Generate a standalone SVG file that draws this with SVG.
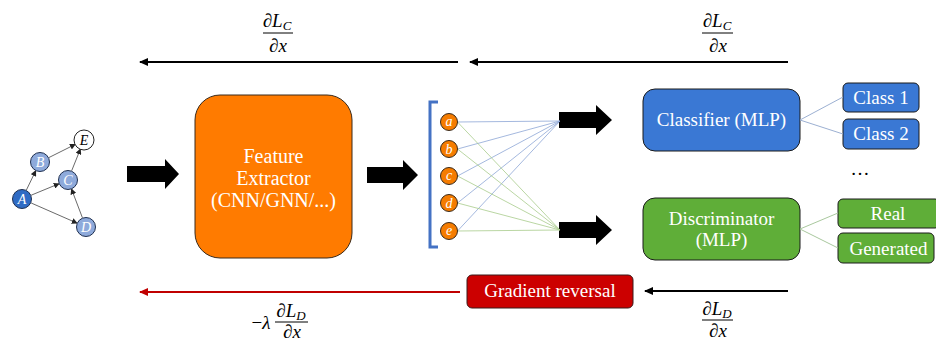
<svg xmlns="http://www.w3.org/2000/svg" width="936" height="343" viewBox="0 0 936 343">
<style>
  .lbl { font-family: "Liberation Serif", "Times New Roman", serif; fill: #ffffff; text-anchor: middle; }
  .m { font-family: "Liberation Serif", "Times New Roman", serif; fill: #000; text-anchor: middle; font-size: 19px; }
  .it { font-style: italic; }
  .gnode { stroke: #1f2f4f; stroke-width: 1; }
  .gl { font-family: "Liberation Serif", serif; font-style: italic; font-size: 14px; text-anchor: middle; fill: #fff; }
  .gedge { stroke: #444; stroke-width: 0.8; fill: none; marker-end: url(#sm); }
  .block { fill: #000; }
  .bl { stroke: #8da6d6; stroke-width: 0.8; }
  .gr { stroke: #a8cc8c; stroke-width: 0.8; }
</style>
<defs>
  <marker id="sm" markerWidth="6" markerHeight="6" refX="5" refY="3" orient="auto" markerUnits="userSpaceOnUse">
    <path d="M0,0 L6,3 L0,6 z" fill="#222"/>
  </marker>
  <marker id="ak" markerWidth="9" markerHeight="8" refX="8" refY="4" orient="auto" markerUnits="userSpaceOnUse">
    <path d="M0,0 L9,4 L0,8 z" fill="#000"/>
  </marker>
  <marker id="ar" markerWidth="9" markerHeight="8" refX="8" refY="4" orient="auto" markerUnits="userSpaceOnUse">
    <path d="M0,0 L9,4 L0,8 z" fill="#c00000"/>
  </marker>
</defs>

<!-- input graph -->
<g id="graph">
  <g id="graph-edges">
    <line class="gedge" x1="26.4" y1="190" x2="35.6" y2="171"/>
    <line class="gedge" x1="49" y1="157.5" x2="75" y2="144.5"/>
    <line class="gedge" x1="31.2" y1="195.2" x2="58.8" y2="183.8"/>
    <line class="gedge" x1="71.7" y1="170.7" x2="80.3" y2="149.3"/>
    <line class="gedge" x1="31.2" y1="203" x2="76.8" y2="223"/>
    <line class="gedge" x1="82.4" y1="217.7" x2="71.6" y2="189.3"/>
  </g>
  <g id="gA"><circle class="gnode" cx="22" cy="199" r="9.5" fill="#2f6bc4"/><text class="gl" x="22" y="204">A</text></g>
  <g id="gB"><circle class="gnode" cx="40" cy="162" r="9.5" fill="#8eaadb"/><text class="gl" x="40" y="167">B</text></g>
  <g id="gC"><circle class="gnode" cx="68" cy="180" r="9.5" fill="#8eaadb"/><text class="gl" x="68" y="185">C</text></g>
  <g id="gD"><circle class="gnode" cx="86" cy="227" r="9.5" fill="#8eaadb"/><text class="gl" x="86" y="232">D</text></g>
  <g id="gE"><circle cx="84" cy="140" r="10" fill="#ffffff" stroke="#222" stroke-width="1"/><text class="gl" x="84" y="145" style="fill:#000">E</text></g>
</g>

<!-- block arrows -->
<g id="block-arrows">
  <polygon class="block" points="127,166 165,166 165,159 179,174 165,189 165,182 127,182"/>
  <polygon class="block" points="367,167 403,167 403,160 418,175 403,190 403,183 367,183"/>
  <polygon class="block" points="559,112 596,112 596,105 612,120 596,135 596,128 559,128"/>
  <polygon class="block" points="559,222 596,222 596,215 612,230 596,245 596,238 559,238"/>
</g>

<!-- feature extractor -->
<g id="feature-extractor">
  <rect x="195" y="95" width="157" height="163" rx="25" fill="#ff7b00" stroke="#3a2a1a" stroke-width="1"/>
  <text class="lbl" x="273.5" y="163" font-size="20">Feature</text>
  <text class="lbl" x="273.5" y="185" font-size="20">Extractor</text>
  <text class="lbl" x="273.5" y="207" font-size="20">(CNN/GNN/...)</text>
</g>

<!-- feature vector -->
<g id="feature-vector">
  <path d="M438,102 H430 V247 H438" fill="none" stroke="#4472c4" stroke-width="3"/>
  <g id="vector-lines">
    <line class="bl" x1="457.5" y1="122" x2="560" y2="121"/>
    <line class="bl" x1="457.5" y1="149" x2="560" y2="121"/>
    <line class="bl" x1="457.5" y1="176" x2="560" y2="121"/>
    <line class="bl" x1="457.5" y1="203" x2="560" y2="121"/>
    <line class="bl" x1="457.5" y1="231" x2="560" y2="121"/>
    <line class="gr" x1="457.5" y1="122" x2="560" y2="230"/>
    <line class="gr" x1="457.5" y1="149" x2="560" y2="230"/>
    <line class="gr" x1="457.5" y1="176" x2="560" y2="230"/>
    <line class="gr" x1="457.5" y1="203" x2="560" y2="230"/>
    <line class="gr" x1="457.5" y1="231" x2="560" y2="230"/>
  </g>
  <g id="va"><circle cx="449" cy="122" r="8.5" fill="#f57c00" stroke="#3a2a1a" stroke-width="1"/><text class="gl" x="449" y="126">a</text></g>
  <g id="vb"><circle cx="449" cy="149" r="8.5" fill="#f57c00" stroke="#3a2a1a" stroke-width="1"/><text class="gl" x="449" y="154">b</text></g>
  <g id="vc"><circle cx="449" cy="176" r="8.5" fill="#f57c00" stroke="#3a2a1a" stroke-width="1"/><text class="gl" x="449" y="180">c</text></g>
  <g id="vd"><circle cx="449" cy="203" r="8.5" fill="#f57c00" stroke="#3a2a1a" stroke-width="1"/><text class="gl" x="449" y="208">d</text></g>
  <g id="ve"><circle cx="449" cy="231" r="8.5" fill="#f57c00" stroke="#3a2a1a" stroke-width="1"/><text class="gl" x="449" y="235">e</text></g>
</g>

<!-- classifier -->
<g id="classifier">
  <rect x="643" y="89" width="157" height="62" rx="12" fill="#3a78d4" stroke="#1a1a1a" stroke-width="1"/>
  <text class="lbl" x="721.5" y="126" font-size="19">Classifier (MLP)</text>
</g>
<g id="class1">
  <rect x="843" y="83" width="76" height="29" rx="5" fill="#3a78d4" stroke="#1a1a1a" stroke-width="1"/>
  <text class="lbl" x="881" y="104" font-size="19">Class 1</text>
</g>
<g id="class2">
  <rect x="843" y="119" width="76" height="30" rx="5" fill="#3a78d4" stroke="#1a1a1a" stroke-width="1"/>
  <text class="lbl" x="881" y="140" font-size="19">Class 2</text>
</g>
<text x="860" y="175" font-family="Liberation Serif, serif" font-size="19" text-anchor="middle" fill="#000">…</text>

<!-- discriminator -->
<g id="discriminator">
  <rect x="643" y="198" width="157" height="62" rx="12" fill="#5fae38" stroke="#1a1a1a" stroke-width="1"/>
  <text class="lbl" x="721.5" y="225" font-size="19">Discriminator</text>
  <text class="lbl" x="721.5" y="246" font-size="19">(MLP)</text>
</g>
<g id="real">
  <rect x="838" y="199" width="102" height="29" rx="5" fill="#5fae38" stroke="#1a1a1a" stroke-width="1"/>
  <text class="lbl" x="888" y="220" font-size="19">Real</text>
</g>
<g id="generated">
  <rect x="838" y="233" width="96" height="30" rx="5" fill="#5fae38" stroke="#1a1a1a" stroke-width="1"/>
  <text class="lbl" x="888.5" y="255" font-size="19">Generated</text>
</g>

<!-- gradient reversal -->
<g id="gradient-reversal">
  <rect x="467" y="275" width="166" height="33" rx="5" fill="#cc0000" stroke="#3a1a1a" stroke-width="1"/>
  <text class="lbl" x="550" y="297" font-size="19">Gradient reversal</text>
</g>

<!-- connectors -->
<g id="connectors">
  <line x1="800" y1="120" x2="843" y2="97" stroke="#9cb0d2" stroke-width="1"/>
  <line x1="800" y1="120" x2="843" y2="134" stroke="#9cb0d2" stroke-width="1"/>
  <line x1="800" y1="229" x2="838" y2="213" stroke="#a9c89e" stroke-width="1"/>
  <line x1="800" y1="229" x2="838" y2="248" stroke="#a9c89e" stroke-width="1"/>
  <line x1="458" y1="62" x2="140" y2="62" stroke="#000" stroke-width="2" marker-end="url(#ak)"/>
  <line x1="788" y1="62" x2="470" y2="62" stroke="#000" stroke-width="2" marker-end="url(#ak)"/>
  <line x1="788" y1="291" x2="645" y2="291" stroke="#000" stroke-width="2" marker-end="url(#ak)"/>
  <line x1="460" y1="292" x2="140" y2="292" stroke="#c00000" stroke-width="2" marker-end="url(#ar)"/>
</g>

<!-- gradient labels -->
<g id="label-top-left">
  <text class="m" x="277" y="27">∂<tspan class="it">L</tspan><tspan class="it" font-size="13" dy="3">C</tspan></text>
  <line x1="263" y1="33" x2="293" y2="33" stroke="#000" stroke-width="1"/>
  <text class="m" x="278" y="52">∂<tspan class="it">x</tspan></text>
</g>
<g id="label-top-right">
  <text class="m" x="717" y="27">∂<tspan class="it">L</tspan><tspan class="it" font-size="13" dy="3">C</tspan></text>
  <line x1="702" y1="33" x2="733" y2="33" stroke="#000" stroke-width="1"/>
  <text class="m" x="718" y="52">∂<tspan class="it">x</tspan></text>
</g>
<g id="label-bottom-right">
  <text class="m" x="717" y="315">∂<tspan class="it">L</tspan><tspan class="it" font-size="13" dy="3">D</tspan></text>
  <line x1="702" y1="320" x2="733" y2="320" stroke="#000" stroke-width="1"/>
  <text class="m" x="718" y="337">∂<tspan class="it">x</tspan></text>
</g>
<g id="label-bottom-left">
  <text class="m" x="261" y="329">−<tspan class="it">λ</tspan></text>
  <text class="m" x="291" y="317">∂<tspan class="it">L</tspan><tspan class="it" font-size="13" dy="3">D</tspan></text>
  <line x1="275" y1="322" x2="308" y2="322" stroke="#000" stroke-width="1"/>
  <text class="m" x="292" y="338">∂<tspan class="it">x</tspan></text>
</g>
</svg>
